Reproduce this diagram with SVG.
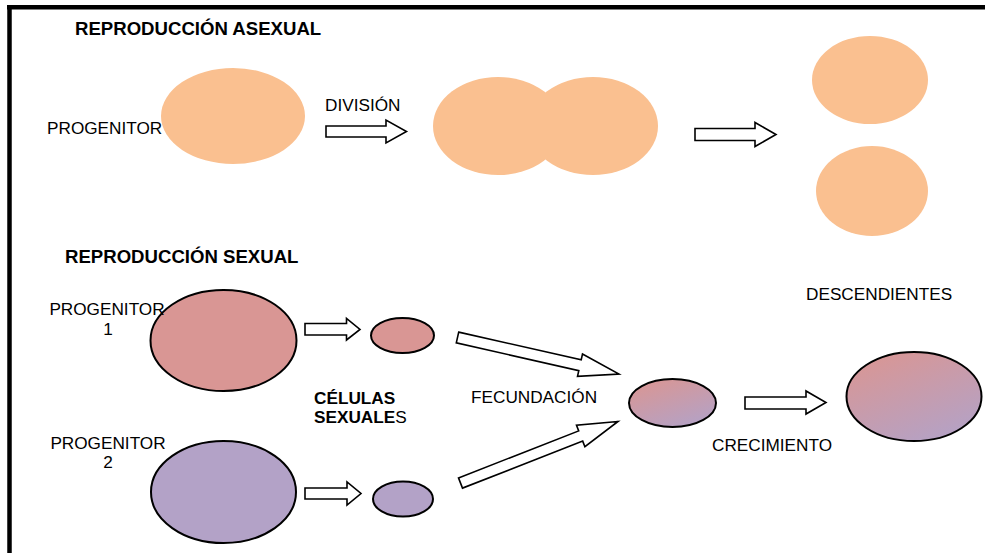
<svg xmlns="http://www.w3.org/2000/svg" width="985" height="553" viewBox="0 0 985 553">
<style>
text{font-family:"Liberation Sans",Arial,sans-serif;font-size:17.2px;fill:#000}
.title{font-weight:bold;font-size:18.6px}
.b{font-weight:bold}
.org{fill:#FAC090;stroke:none}
.pk{fill:#D99694;stroke:#000;stroke-width:2}
.pu{fill:#B3A2C7;stroke:#000;stroke-width:2}
.gr{fill:url(#mix);stroke:#000;stroke-width:2}
.arr{fill:#fff;stroke:#000;stroke-width:1.6;stroke-linejoin:miter}
</style>
<defs>
<linearGradient id="mix" x1="0.2" y1="0" x2="0.8" y2="1">
<stop offset="0" stop-color="#D99694"/>
<stop offset="1" stop-color="#B3A2C7"/>
</linearGradient>
</defs>
<rect width="985" height="553" fill="#fff"/>
<g id="frame">
<line x1="7" y1="7.3" x2="985" y2="7.3" stroke="#000" stroke-width="4.5"/>
<line x1="9.5" y1="5" x2="9.5" y2="553" stroke="#000" stroke-width="4.5"/>
</g>
<g id="titles">
<text class="title" x="75" y="35">REPRODUCCIÓN ASEXUAL</text>
<text class="title" x="65" y="263">REPRODUCCIÓN SEXUAL</text>
</g>
<g id="progenitor-asexual">
<ellipse class="org" cx="233" cy="116" rx="72" ry="48"/>
<text x="47" y="134">PROGENITOR</text>
</g>
<g id="division">
<ellipse class="org" cx="498" cy="126" rx="65" ry="49"/>
<ellipse class="org" cx="593" cy="126" rx="65" ry="49"/>
</g>
<g id="descendiente-1">
<ellipse class="org" cx="870" cy="80" rx="58" ry="44"/>
</g>
<g id="descendiente-2">
<ellipse class="org" cx="872" cy="191" rx="56" ry="45"/>
</g>
<g id="label-descendientes">
<text x="806" y="300">DESCENDIENTES</text>
</g>
<g id="progenitor-1">
<ellipse class="pk" cx="223.5" cy="340.5" rx="73" ry="50.5"/>
<text x="107" y="315" text-anchor="middle">PROGENITOR</text>
<text x="108" y="334.5" text-anchor="middle" font-size="12">1</text>
</g>
<g id="celula-1">
<ellipse class="pk" cx="402.5" cy="335.5" rx="31.5" ry="17.5"/>
</g>
<g id="progenitor-2">
<ellipse class="pu" cx="223.5" cy="492" rx="72.5" ry="51"/>
<text x="108" y="449" text-anchor="middle">PROGENITOR</text>
<text x="108" y="468" text-anchor="middle">2</text>
</g>
<g id="celula-2">
<ellipse class="pu" cx="403" cy="499" rx="30" ry="17.5"/>
</g>
<g id="label-celulas">
<text class="b" x="314" y="404" font-size="16.8">CÉLULAS</text>
<text x="314" y="423" font-size="16.8"><tspan class="b">SEXUALE</tspan>S</text>
</g>
<g id="cigoto">
<ellipse class="gr" cx="672.5" cy="403" rx="43.5" ry="24"/>
</g>
<g id="adulto">
<ellipse class="gr" cx="914" cy="396.5" rx="67.5" ry="44.5"/>
</g>
<g id="labels">
<text x="325" y="111">DIVISIÓN</text>
<text x="471" y="403">FECUNDACIÓN</text>
<text x="712" y="451">CRECIMIENTO</text>
</g>
<g id="connectors">
<polygon class="arr" points="326,126 386,126 386,120 406.5,131.5 386,143 386,137 326,137"/>
<polygon class="arr" points="695,128.5 755,128.5 755,122.5 776,134.5 755,146.5 755,140.5 695,140.5"/>
<polygon class="arr" points="305,323.5 346.5,323.5 346.5,318.5 360,329.5 346.5,340 346.5,335 305,335"/>
<polygon class="arr" points="305,488 347,488 347,482 361,493.5 347,505 347,499 305,499"/>
<polygon class="arr" points="745,397 806,397 806,391 826,402.5 806,414 806,409 745,409"/>
<polygon class="arr" points="458.7,332.1 581.2,359.8 582.5,354 619,374 577.5,376.4 578.8,370.6 456.3,342.9"/>
<polygon class="arr" points="458.5,477.9 578.7,430.9 576.5,425.3 618,421.5 584.9,446.7 582.7,441.1 462.5,488.1"/>
</g>
</svg>
